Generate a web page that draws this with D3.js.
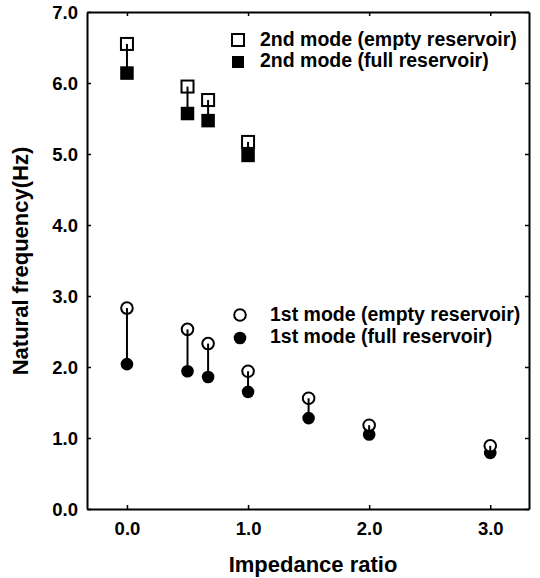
<!DOCTYPE html>
<html>
<head>
<meta charset="utf-8">
<script src="https://cdn.jsdelivr.net/npm/d3@7"></script>
<style>
  body { margin: 0; background: #fff; }
  svg { display: block; }
  text { font-family: "Liberation Sans", Arial, Helvetica, sans-serif; fill: #000; }
</style>
</head>
<body>
<svg id="chart" width="540" height="578"></svg>
<script>
// ---- data ----
const ratios1 = [0, 0.5, 0.67, 1.0, 1.5, 2.0, 3.0];
const mode1Empty = [2.83, 2.53, 2.33, 1.94, 1.56, 1.18, 0.89];
const mode1Full  = [2.04, 1.94, 1.86, 1.65, 1.28, 1.05, 0.79];
const ratios2 = [0, 0.5, 0.67, 1.0];
const mode2Empty = [6.55, 5.95, 5.76, 5.17];
const mode2Full  = [6.14, 5.57, 5.47, 4.98];
const xTicks = [0, 1, 2, 3];
const yTicks = [0, 1, 2, 3, 4, 5, 6, 7];
const legend2 = ["2nd mode (empty reservoir)", "2nd mode (full reservoir)"];
const legend1 = ["1st mode (empty reservoir)", "1st mode (full reservoir)"];
const xTitle = "Impedance ratio";
const yTitle = "Natural frequency(Hz)";

// ---- layout ----
const svg = d3.select("#chart");
const pL = 87, pR = 529, pT = 12, pB = 509;
const x = d3.scaleLinear().domain([-0.33, 3.32]).range([pL, pR]);
const y = d3.scaleLinear().domain([0, 7]).range([pB, pT]);
const fmt = d3.format(".1f");

// axes (ticks inward on all four sides)
const axB = svg.append("g").attr("transform", `translate(0,${pB})`)
  .call(d3.axisBottom(x).tickValues(xTicks).tickSize(-4).tickSizeOuter(0).tickFormat(fmt).tickPadding(13));
const axT = svg.append("g").attr("transform", `translate(0,${pT})`)
  .call(d3.axisTop(x).tickValues(xTicks).tickSize(-4).tickSizeOuter(0).tickFormat(""));
const axL = svg.append("g").attr("transform", `translate(${pL},0)`)
  .call(d3.axisLeft(y).tickValues(yTicks).tickSize(-4).tickSizeOuter(0).tickFormat(fmt).tickPadding(9));
const axR = svg.append("g").attr("transform", `translate(${pR},0)`)
  .call(d3.axisRight(y).tickValues(yTicks).tickSize(-4).tickSizeOuter(0).tickFormat(""));

[axB, axT, axL, axR].forEach(g => {
  g.select(".domain").attr("stroke", "#000").attr("stroke-width", 2);
  g.selectAll(".tick line").attr("stroke", "#000").attr("stroke-width", 1.5);
  g.selectAll(".tick text").style("font-size", "18.5px").style("font-weight", "bold")
    .style("font-family", '"Liberation Sans", Arial, sans-serif').attr("fill", "#000");
});
axL.selectAll(".tick text").attr("dy", "0.36em");
axB.selectAll(".tick text").attr("dy", "0.71em");

// titles
svg.append("text").attr("x", 313).attr("y", 572).attr("text-anchor", "middle")
  .style("font-size", "22px").style("font-weight", "bold").text(xTitle);
svg.append("text").attr("transform", "translate(28,261) rotate(-90)").attr("text-anchor", "middle")
  .style("font-size", "22px").style("font-weight", "bold").text(yTitle);

const sq = 12;
// 2nd mode squares
svg.append("g").selectAll("rect").data(ratios2.map((r, i) => [r, mode2Full[i]])).join("rect")
  .attr("x", d => x(d[0]) - sq / 2).attr("y", d => y(d[1]) - sq / 2)
  .attr("width", sq).attr("height", sq).attr("fill", "#000").attr("stroke", "#000").attr("stroke-width", 1.5);
svg.append("g").selectAll("rect").data(ratios2.map((r, i) => [r, mode2Empty[i]])).join("rect")
  .attr("x", d => x(d[0]) - sq / 2).attr("y", d => y(d[1]) - sq / 2)
  .attr("width", sq).attr("height", sq).attr("fill", "#fff").attr("stroke", "#000").attr("stroke-width", 2);

// 1st mode circles
svg.append("g").selectAll("circle").data(ratios1.map((r, i) => [r, mode1Full[i]])).join("circle")
  .attr("cx", d => x(d[0])).attr("cy", d => y(d[1])).attr("r", 6.3).attr("fill", "#000");
svg.append("g").selectAll("circle").data(ratios1.map((r, i) => [r, mode1Empty[i]])).join("circle")
  .attr("cx", d => x(d[0])).attr("cy", d => y(d[1])).attr("r", 5.8)
  .attr("fill", "#fff").attr("stroke", "#000").attr("stroke-width", 2);

// stems (drawn over markers, centre to centre)
const stems2 = ratios2.map((r, i) => ({ r, a: mode2Empty[i], b: mode2Full[i] }));
const stems1 = ratios1.map((r, i) => ({ r, a: mode1Empty[i], b: mode1Full[i] }));
svg.append("g").selectAll("line").data(stems2.concat(stems1)).join("line")
  .attr("x1", d => x(d.r)).attr("x2", d => x(d.r))
  .attr("y1", d => y(d.a)).attr("y2", d => y(d.b))
  .attr("stroke", "#000").attr("stroke-width", 2);

// legends
const lg = svg.append("g");
lg.append("rect").attr("x", 238 - sq / 2).attr("y", 40 - sq / 2).attr("width", sq).attr("height", sq)
  .attr("fill", "#fff").attr("stroke", "#000").attr("stroke-width", 2);
lg.append("rect").attr("x", 238 - sq / 2).attr("y", 62 - sq / 2).attr("width", sq).attr("height", sq)
  .attr("fill", "#000");
lg.selectAll("text.l2").data(legend2).join("text").attr("class", "l2")
  .attr("x", 260).attr("y", (d, i) => 46 + i * 21)
  .style("font-size", "19.5px").style("font-weight", "bold").text(d => d);

lg.append("circle").attr("cx", 240).attr("cy", 315).attr("r", 5.8)
  .attr("fill", "#fff").attr("stroke", "#000").attr("stroke-width", 2);
lg.append("circle").attr("cx", 240).attr("cy", 338).attr("r", 6.3).attr("fill", "#000");
lg.selectAll("text.l1").data(legend1).join("text").attr("class", "l1")
  .attr("x", 270).attr("y", (d, i) => 321 + i * 22)
  .style("font-size", "19.5px").style("font-weight", "bold").text(d => d);
</script>
</body>
</html>
